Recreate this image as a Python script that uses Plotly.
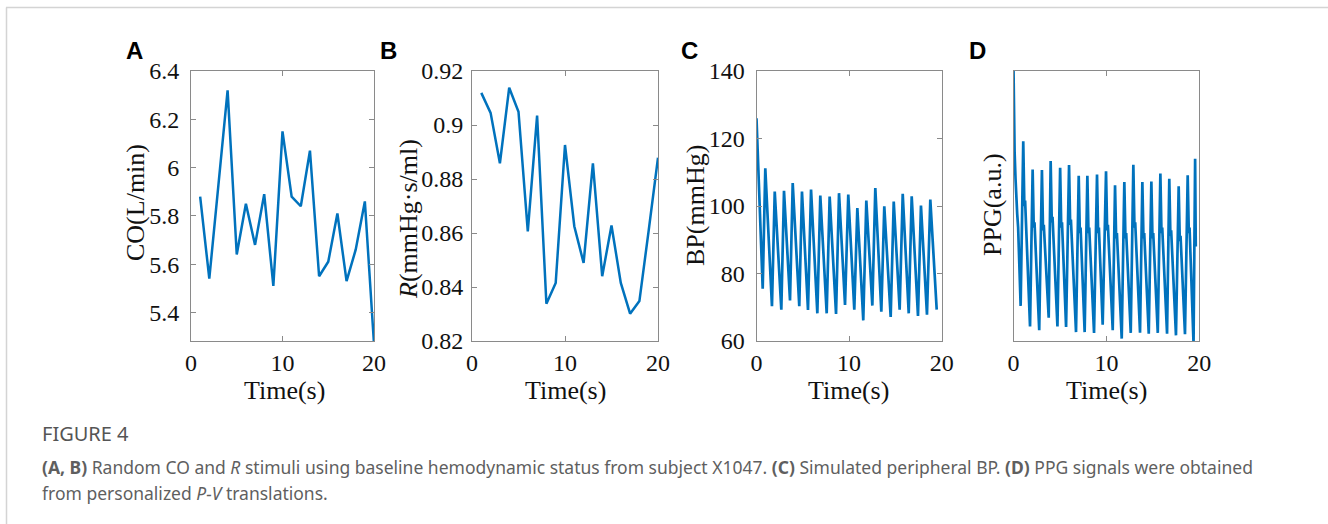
import plotly.graph_objects as go

# ---------------- data ----------------
time_ab = list(range(1, 21))
co_values = [5.88, 5.54, 5.93, 6.32, 5.64, 5.85, 5.68, 5.89, 5.51, 6.15,
             5.88, 5.84, 6.07, 5.55, 5.61, 5.81, 5.53, 5.66, 5.86, 5.27]
r_values = [0.9119, 0.9045, 0.8858, 0.9138, 0.9049, 0.8606, 0.9035, 0.8338, 0.8415, 0.8926,
            0.8625, 0.8489, 0.8858, 0.8440, 0.8628, 0.8415, 0.8301, 0.8348, 0.8610, 0.8879]

bp_time = [0.00, 0.67, 0.95, 1.67, 1.97, 2.68, 2.97, 3.62, 3.91, 4.62, 4.91, 5.56, 5.89,
           6.57, 6.89, 7.58, 7.90, 8.59, 8.91, 9.56, 9.91, 10.56, 10.89, 11.53, 11.86,
           12.51, 12.83, 13.48, 13.80, 14.49, 14.82, 15.46, 15.79, 16.44, 16.76, 17.44,
           17.76, 18.41, 18.77, 19.46]
bp_values = [126.0, 75.5, 111.2, 70.3, 104.3, 69.3, 104.5, 72.0, 106.8, 70.3, 104.3, 69.2, 104.9,
             68.2, 103.1, 68.2, 102.8, 68.0, 103.8, 70.7, 103.4, 69.3, 99.4, 66.1, 101.6,
             70.5, 105.3, 68.7, 99.9, 67.1, 101.3, 69.3, 103.6, 68.2, 102.9, 67.4,
             100.1, 67.8, 101.9, 69.3]

ppg_time = [0.00, 0.04, 0.12, 0.22, 0.32, 0.40, 0.50, 0.77,
            1.05, 1.17, 1.25, 1.78,
            2.06, 2.18, 2.26, 2.77,
            3.06, 3.18, 3.26, 3.79,
            4.00, 4.12, 4.20, 4.73,
            5.02, 5.14, 5.22, 5.66,
            5.98, 6.10, 6.18, 6.73,
            7.02, 7.14, 7.22, 7.66,
            7.95, 8.07, 8.15, 8.67,
            8.99, 9.11, 9.19, 9.60,
            9.96, 10.08, 10.16, 10.68,
            10.93, 11.05, 11.13, 11.65,
            11.93, 12.05, 12.13, 12.62,
            12.90, 13.02, 13.10, 13.62,
            13.87, 13.99, 14.07, 14.56,
            14.84, 14.96, 15.04, 15.53,
            15.81, 15.93, 16.01, 16.53,
            16.77, 16.89, 16.97, 17.49,
            17.78, 17.90, 17.98, 18.46,
            18.75, 18.87, 18.95, 19.38,
            19.55, 19.62]
ppg_values = [101.0, 88.0, 70.0, 60.0, 50.0, 47.0, 42.0, 13.0,
              74.0, 50.0, 52.0, 5.4,
              63.5, 42.0, 44.0, 4.0,
              63.3, 41.0, 43.0, 8.6,
              66.7, 44.0, 46.0, 5.4,
              64.2, 42.0, 44.0, 5.2,
              65.2, 43.0, 45.0, 3.3,
              61.2, 40.0, 42.0, 3.3,
              61.2, 40.0, 42.0, 3.0,
              61.7, 40.0, 42.0, 6.0,
              62.9, 41.0, 43.0, 4.0,
              57.7, 38.0, 40.0, 0.9,
              58.9, 38.0, 40.0, 3.0,
              65.3, 42.0, 44.0, 3.1,
              58.9, 38.0, 40.0, 2.7,
              59.1, 38.0, 40.0, 3.0,
              62.0, 40.0, 42.0, 2.7,
              60.1, 39.0, 41.0, 2.1,
              57.3, 37.0, 39.0, 2.5,
              61.4, 40.0, 42.0, -1.0,
              67.5, 35.0]

x_ticks = [0, 10, 20]
co_ticks = [5.4, 5.6, 5.8, 6.0, 6.2, 6.4]
co_ticktext = ["5.4", "5.6", "5.8", "6", "6.2", "6.4"]
r_ticks = [0.82, 0.84, 0.86, 0.88, 0.90, 0.92]
r_ticktext = ["0.82", "0.84", "0.86", "0.88", "0.9", "0.92"]
bp_ticks = [60, 80, 100, 120, 140]

# ---------------- figure ----------------
W, H = 1328, 524
LINE = "#0072BD"
SERIF = "Liberation Serif, Times New Roman, serif"
AXC = "#8a8a8a"


def px(x):
    return x / W


def py(y):
    return 1 - y / H


fig = go.Figure()
fig.add_trace(go.Scatter(x=time_ab, y=co_values, mode="lines", line=dict(color=LINE, width=2.5),
                         xaxis="x", yaxis="y", showlegend=False))
fig.add_trace(go.Scatter(x=time_ab, y=r_values, mode="lines", line=dict(color=LINE, width=2.5),
                         xaxis="x2", yaxis="y2", showlegend=False))
fig.add_trace(go.Scatter(x=bp_time, y=bp_values, mode="lines", line=dict(color=LINE, width=2.7),
                         xaxis="x3", yaxis="y3", showlegend=False))
fig.add_trace(go.Scatter(x=ppg_time, y=ppg_values, mode="lines", line=dict(color=LINE, width=2.7),
                         xaxis="x4", yaxis="y4", showlegend=False))

boxes = {
    "": (191, 374),
    "2": (472, 658),
    "3": (756.5, 941.7),
    "4": (1013.5, 1199.3),
}
ytop, ybot = 71, 341

common_x = dict(range=[0, 20], tickvals=x_ticks, ticks="inside", ticklen=5, tickcolor=AXC,
                showline=True, linecolor=AXC, linewidth=1, mirror="ticks", showgrid=False,
                zeroline=False, tickfont=dict(family=SERIF, size=24, color="#111"),
                ticklabelstandoff=0, fixedrange=True)
common_y = dict(ticks="inside", ticklen=5, tickcolor=AXC, showline=True, linecolor=AXC,
                linewidth=1, mirror="ticks", showgrid=False, zeroline=False,
                tickfont=dict(family=SERIF, size=24, color="#111"), ticklabelstandoff=6,
                fixedrange=True)

layout = dict(width=W, height=H, margin=dict(l=0, r=0, t=0, b=0, autoexpand=False),
              paper_bgcolor="white", plot_bgcolor="white", showlegend=False)

yspecs = {
    "": dict(range=[5.282, 6.4], tickvals=co_ticks, ticktext=co_ticktext),
    "2": dict(range=[0.82, 0.92], tickvals=r_ticks, ticktext=r_ticktext, ticklabelstandoff=3),
    "3": dict(range=[60, 140], tickvals=bp_ticks),
    "4": dict(range=[0, 100], showticklabels=False, ticks=""),
}

for k, (x0, x1) in boxes.items():
    xa = dict(common_x)
    xa["domain"] = [px(x0), px(x1)]
    xa["anchor"] = "y" + k
    ya = dict(common_y)
    ya.update(yspecs[k])
    ya["domain"] = [py(ybot), py(ytop)]
    ya["anchor"] = "x" + k
    layout["xaxis" + k] = xa
    layout["yaxis" + k] = ya

fig.update_layout(**layout)

annotations = []
# panel letters
for letter, xc in [("A", 134), ("B", 388), ("C", 689), ("D", 977)]:
    annotations.append(dict(text="<b>%s</b>" % letter, x=px(xc), y=py(51), xref="paper", yref="paper",
                            showarrow=False, xanchor="center", yanchor="middle",
                            font=dict(family="Liberation Sans, Arial, sans-serif", size=24, color="#000")))
# x titles
for xc in [284, 565, 849, 1106]:
    annotations.append(dict(text="Time(s)", x=px(xc), y=py(390), xref="paper", yref="paper",
                            showarrow=False, xanchor="center", yanchor="middle",
                            font=dict(family=SERIF, size=26, color="#111")))
# y titles
for txt, xc, yc in [("CO(L/min)", 135, 203), ("<i>R</i>(mmHg·s/ml)", 408, 219),
                    ("BP(mmHg)", 695, 206), ("PPG(a.u.)", 993, 205)]:
    annotations.append(dict(text=txt, x=px(xc), y=py(yc), xref="paper", yref="paper",
                            showarrow=False, xanchor="center", yanchor="middle", textangle=-90,
                            font=dict(family=SERIF, size=26, color="#111")))

CAP = "Noto Sans, Open Sans, sans-serif"
annotations.append(dict(text="FIGURE 4", x=px(40), y=py(433), xref="paper", yref="paper",
                        showarrow=False, xanchor="left", yanchor="middle",
                        font=dict(family=CAP, size=20, color="#555")))
annotations.append(dict(
    text="<b>(A, B)</b> Random CO and <i>R</i> stimuli using baseline hemodynamic status from subject X1047. "
         "<b>(C)</b> Simulated peripheral BP. <b>(D)</b> PPG signals were obtained",
    x=px(40), y=py(467), xref="paper", yref="paper", showarrow=False, xanchor="left", yanchor="middle",
    font=dict(family=CAP, size=17.5, color="#5f5f5f")))
annotations.append(dict(
    text="from personalized <i>P-V</i> translations.",
    x=px(40), y=py(493), xref="paper", yref="paper", showarrow=False, xanchor="left", yanchor="middle",
    font=dict(family=CAP, size=17.5, color="#5f5f5f")))

fig.update_layout(annotations=annotations)

# outer frame lines (top and left)
fig.add_shape(type="line", xref="paper", yref="paper", x0=px(6), x1=1, y0=py(7.5), y1=py(7.5),
              line=dict(color="#d4d4d4", width=1.5))
fig.add_shape(type="line", xref="paper", yref="paper", x0=px(6.5), x1=px(6.5), y0=0, y1=py(7.5),
              line=dict(color="#d4d4d4", width=1.5))

fig.write_html("out.html")
